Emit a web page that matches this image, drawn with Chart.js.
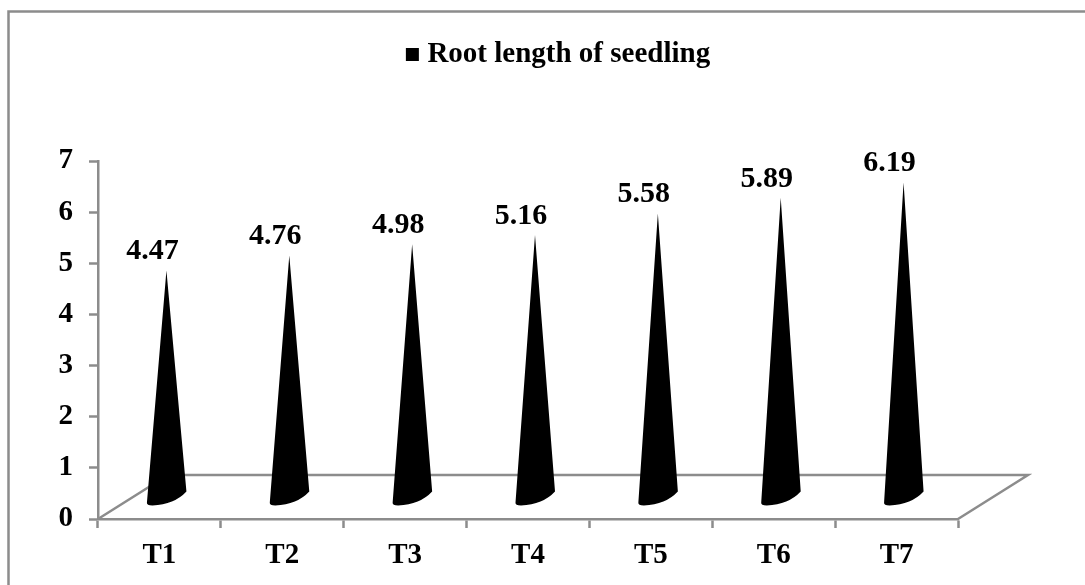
<!DOCTYPE html>
<html>
<head>
<meta charset="utf-8">
<title>Root length of seedling</title>
<script src="https://cdn.jsdelivr.net/npm/chart.js@4"></script>
<style>
    html, body { margin: 0; padding: 0; background: #fff; overflow: hidden; }
    canvas { display: block; }
</style>
</head>
<body>
<canvas id="myChart" width="1085" height="585"></canvas>
<script>
const categories = ['T1', 'T2', 'T3', 'T4', 'T5', 'T6', 'T7'];
const rootLength = [4.47, 4.76, 4.98, 5.16, 5.58, 5.89, 6.19];
const seriesName = 'Root length of seedling';

const GREY = '#8c8c8c';
const SERIF = '"Liberation Serif", "Times New Roman", serif';

// cone standing on the 3D floor, tip is 20px above the value like the excel one
class ConeBar extends Chart.BarElement {
    draw(ctx) {
        const { x, y, base } = this.getProps(['x', 'y', 'base']);
        ctx.save();
        ctx.fillStyle = this.options.backgroundColor;
        ctx.beginPath();
        ctx.moveTo(x + 7, y - 20);
        ctx.lineTo(x + 27, base - 27);
        ctx.quadraticCurveTo(x + 15, base - 14, x - 7, base - 13);
        ctx.quadraticCurveTo(x - 13, base - 13, x - 12.5, base - 16);
        ctx.closePath();
        ctx.fill();
        ctx.restore();
    }
}
ConeBar.id = 'coneBar';

class ConeController extends Chart.BarController {}
ConeController.id = 'cone';
ConeController.defaults = { dataElementType: 'coneBar' };

Chart.register(ConeBar, ConeController);

const floorPlugin = {
    id: 'floor',
    beforeDraw(chart) {
        const ctx = chart.ctx;
        // outer frame, only top and left are in the picture
        ctx.save();
        ctx.strokeStyle = GREY;
        ctx.lineWidth = 2.5;
        ctx.beginPath();
        ctx.moveTo(8.5, 585);
        ctx.lineTo(8.5, 11.5);
        ctx.lineTo(1085, 11.5);
        ctx.stroke();
        ctx.restore();
    },
    beforeDatasetsDraw(chart) {
        const ctx = chart.ctx;
        const { left, right, bottom } = chart.chartArea;
        ctx.save();
        ctx.strokeStyle = GREY;
        ctx.lineWidth = 2.5;
        ctx.beginPath();
        ctx.moveTo(left, bottom);
        ctx.lineTo(left + 70, bottom - 44);
        ctx.lineTo(right + 70, bottom - 44);
        ctx.lineTo(right, bottom);
        ctx.stroke();
        ctx.restore();
    },
    afterDatasetsDraw(chart) {
        const ctx = chart.ctx;
        const bars = chart.getDatasetMeta(0).data;
        ctx.save();
        ctx.fillStyle = '#000';
        ctx.font = 'bold 30px ' + SERIF;
        ctx.textAlign = 'center';
        ctx.textBaseline = 'middle';
        bars.forEach((bar, i) => {
            ctx.fillText(rootLength[i].toFixed(2), bar.x - 7, bar.y - 39);
        });
        ctx.restore();
    },
    afterLayout(chart) {
        // legend is not centred on the canvas in the original
        chart.legend.left += 82;
        chart.legend.right += 82;
        chart.legend.top = 40 - chart.legend.options.labels.padding;
    }
};

new Chart(document.getElementById('myChart'), {
    type: 'cone',
    data: {
        labels: categories,
        datasets: [{
            label: seriesName,
            data: rootLength,
            backgroundColor: '#000',
            borderColor: '#000',
            borderWidth: 12
        }]
    },
    options: {
        responsive: false,
        animation: false,
        layout: { padding: { left: 0, right: 127, top: 0, bottom: 0 } },
        plugins: {
            tooltip: { enabled: false },
            legend: {
                position: 'top',
                labels: {
                    color: '#000',
                    boxWidth: 1,
                    boxHeight: 1,
                    padding: 122,
                    font: { family: SERIF, size: 29, weight: 'bold' }
                }
            }
        },
        scales: {
            x: {
                afterFit(scale) { scale.height = 66; },
                grid: {
                    drawOnChartArea: false,
                    tickLength: 9,
                    tickWidth: 2.5,
                    tickColor: GREY
                },
                border: { color: GREY, width: 2.5 },
                ticks: {
                    color: '#000',
                    padding: 10,
                    maxRotation: 0,
                    font: { family: SERIF, size: 29, weight: 'bold' }
                }
            },
            y: {
                min: 0,
                max: 7,
                afterFit(scale) { scale.width = 98; },
                grid: {
                    drawOnChartArea: false,
                    tickLength: 9,
                    tickWidth: 2.5,
                    tickColor: GREY
                },
                border: { color: GREY, width: 2.5 },
                ticks: {
                    stepSize: 1,
                    color: '#000',
                    padding: 16,
                    font: { family: SERIF, size: 29, weight: 'bold' }
                }
            }
        }
    },
    plugins: [floorPlugin]
});
</script>
</body>
</html>
